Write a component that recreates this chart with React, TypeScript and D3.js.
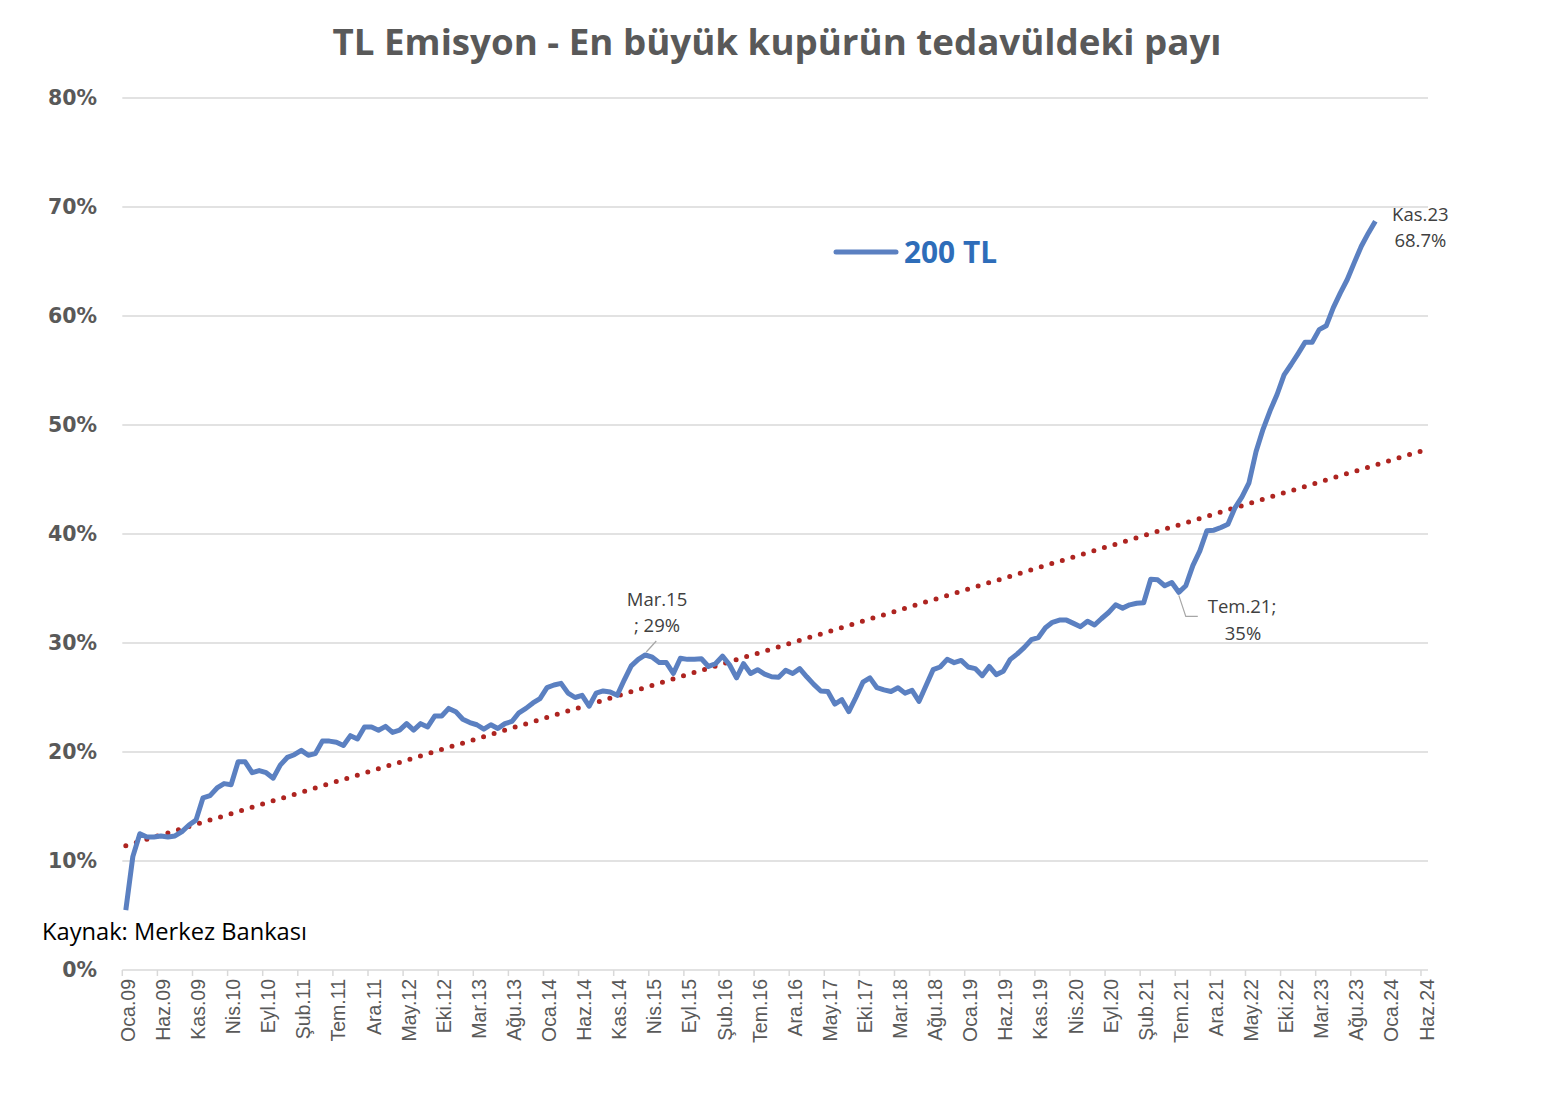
import React, { useEffect } from 'react'
import * as d3 from 'd3'

// Monthly share of the 200 TL note in circulation (%), Oca.09 .. Kas.23
const share200: number[] = [
  5.5, 10.4, 12.5, 12.2, 12.2, 12.3, 12.2, 12.3, 12.7, 13.3, 13.75, 15.8,
  16.0, 16.7, 17.1, 17.0, 19.1, 19.1, 18.1, 18.3, 18.1, 17.6, 18.8, 19.5,
  19.75, 20.15, 19.7, 19.85, 21.0, 21.0, 20.9, 20.6, 21.5, 21.2, 22.3, 22.3,
  22.0, 22.35, 21.8, 22.0, 22.6, 22.0, 22.6, 22.3, 23.3, 23.3, 24.0, 23.7,
  23.0, 22.7, 22.5, 22.1, 22.5, 22.15, 22.6, 22.8, 23.6, 24.0, 24.5, 24.9,
  25.9, 26.15, 26.3, 25.4, 25.0, 25.2, 24.2, 25.4, 25.6, 25.5, 25.2, 26.6,
  27.9, 28.5, 28.9, 28.7, 28.2, 28.2, 27.2, 28.6, 28.5, 28.5, 28.55, 27.85,
  28.1, 28.8, 28.0, 26.8, 28.1, 27.2, 27.55, 27.15, 26.9, 26.85, 27.5, 27.2,
  27.65, 26.9, 26.2, 25.6, 25.55, 24.4, 24.8, 23.7, 25.0, 26.4, 26.8, 25.9,
  25.7, 25.55, 25.9, 25.4, 25.65, 24.65, 26.1, 27.55, 27.8, 28.5, 28.2, 28.4,
  27.8, 27.65, 27.0, 27.85, 27.1, 27.4, 28.5, 29.0, 29.6, 30.3, 30.5, 31.4,
  31.9, 32.1, 32.1, 31.8, 31.5, 32.0, 31.65, 32.25, 32.8, 33.5, 33.2, 33.5,
  33.65, 33.7, 35.85, 35.8, 35.25, 35.55, 34.65, 35.25, 37.1, 38.45, 40.3, 40.35,
  40.6, 40.9, 42.4, 43.4, 44.7, 47.55, 49.6, 51.3, 52.8, 54.6, 55.55, 56.55,
  57.6, 57.6, 58.75, 59.1, 60.75, 62.1, 63.35, 64.9, 66.4, 67.6, 68.7,
]

// Category axis labels, one every 5 months (Oca.09 .. Haz.24)
const tickLabels: string[] = [
  'Oca.09', 'Haz.09', 'Kas.09', 'Nis.10', 'Eyl.10', 'Şub.11', 'Tem.11', 'Ara.11',
  'May.12', 'Eki.12', 'Mar.13', 'Ağu.13', 'Oca.14', 'Haz.14', 'Kas.14', 'Nis.15',
  'Eyl.15', 'Şub.16', 'Tem.16', 'Ara.16', 'May.17', 'Eki.17', 'Mar.18', 'Ağu.18',
  'Oca.19', 'Haz.19', 'Kas.19', 'Nis.20', 'Eyl.20', 'Şub.21', 'Tem.21', 'Ara.21',
  'May.22', 'Eki.22', 'Mar.23', 'Ağu.23', 'Oca.24', 'Haz.24',
]
const tickStep = 5
const categoryCount = 186

const yTicks: number[] = [0, 10, 20, 30, 40, 50, 60, 70, 80]

// Linear trend (start and end value, extended to Haz.24)
const trendIndex: number[] = [0, 185]
const trendValue: number[] = [11.4, 47.7]

// Point labels
const callouts = [
  { index: 74, lines: ['Mar.15', '; 29%'] },
  { index: 150, lines: ['Tem.21;', '35%'] },
  { index: 178, lines: ['Kas.23', '68.7%'] },
]

const W = 1564
const H = 1102
const plot = { left: 122.3, right: 1428, top: 98, bottom: 970 }
const blue = '#5B80C1'
const red = '#AE2420'
const grid = '#D9D9D9'
const gray = '#595959'

export default function App() {
  useEffect(() => {
    document.body.style.margin = '0'
  }, [])

  const x = d3.scaleLinear().domain([0, categoryCount]).range([plot.left, plot.right])
  const cx = (i: number) => x(i + 0.5)
  const y = d3.scaleLinear().domain([0, 80]).range([plot.bottom, plot.top])

  const line = d3
    .line<number>()
    .x((_, i) => cx(i))
    .y((d) => y(d))

  const trend = d3
    .line<number>()
    .x((d) => cx(d))
    .y((_, i) => y(trendValue[i]))

  const tickIdx = d3.range(0, categoryCount, tickStep)

  const [mar15, tem21, kas23] = callouts

  return (
    <svg width={W} height={H} style={{ display: 'block', background: '#fff' }}>
      <text
        x={777}
        y={55}
        textAnchor="middle"
        fontFamily="'Open Sans', sans-serif"
        fontWeight={700}
        fontSize={35}
        fill={gray}
        textLength={889}
        lengthAdjust="spacingAndGlyphs"
      >
        TL Emisyon - En büyük kupürün tedavüldeki payı
      </text>

      {/* gridlines */}
      {yTicks.slice(1).map((t) => (
        <line key={t} x1={plot.left} x2={plot.right} y1={y(t)} y2={y(t)} stroke={grid} strokeWidth={1.5} />
      ))}

      {/* y labels */}
      {yTicks.map((t) => (
        <text
          key={t}
          x={97}
          y={y(t)}
          dy="0.36em"
          textAnchor="end"
          fontFamily="'DejaVu Sans', sans-serif"
          fontWeight={700}
          fontSize={20.5}
          fill={gray}
        >
          {t}%
        </text>
      ))}

      {/* x axis */}
      <line x1={plot.left} x2={plot.right} y1={plot.bottom} y2={plot.bottom} stroke={grid} strokeWidth={1.5} />
      {tickIdx.map((i) => (
        <line key={i} x1={x(i)} x2={x(i)} y1={plot.bottom} y2={plot.bottom + 6} stroke={grid} strokeWidth={1.5} />
      ))}
      {tickIdx.map((i, k) => (
        <text
          key={i}
          transform={`translate(${cx(i) + 2},${plot.bottom + 9}) rotate(-90)`}
          dy="0.36em"
          textAnchor="end"
          fontFamily="'Liberation Sans', Arial, sans-serif"
          fontSize={19.5}
          fill={gray}
        >
          {tickLabels[k]}
        </text>
      ))}

      {/* trend */}
      <path
        d={trend(trendIndex) || ''}
        fill="none"
        stroke={red}
        strokeWidth={5}
        strokeLinecap="round"
        strokeDasharray="0 11"
      />

      {/* series */}
      <path d={line(share200) || ''} fill="none" stroke={blue} strokeWidth={5} strokeLinejoin="round" />

      {/* legend */}
      <line x1={836} x2={896} y1={252} y2={252} stroke={blue} strokeWidth={5} strokeLinecap="round" />
      <text
        x={904}
        y={263}
        fontFamily="'Open Sans', sans-serif"
        fontWeight={700}
        fontSize={30}
        fill="#2E6DB9"
        textLength={93}
        lengthAdjust="spacingAndGlyphs"
      >
        200 TL
      </text>

      {/* callouts */}
      <line
        x1={cx(mar15.index) + 1}
        y1={y(share200[mar15.index]) - 3}
        x2={cx(mar15.index) + 11}
        y2={y(share200[mar15.index]) - 14}
        stroke="#A6A6A6"
        strokeWidth={1.2}
      />
      <g fontFamily="'Open Sans', sans-serif" fontSize={18.5} fill="#404040" textAnchor="middle">
        <text x={657} y={606}>{mar15.lines[0]}</text>
        <text x={657} y={632}>{mar15.lines[1]}</text>
      </g>

      <polyline
        points={`${cx(tem21.index)},${y(share200[tem21.index]) + 3} ${cx(tem21.index) + 7},${y(share200[tem21.index]) + 24} ${cx(tem21.index) + 19},${y(share200[tem21.index]) + 24}`}
        fill="none"
        stroke="#A6A6A6"
        strokeWidth={1.2}
      />
      <g fontFamily="'Open Sans', sans-serif" fontSize={18.5} fill="#404040" textAnchor="middle">
        <text x={1242} y={613}>{tem21.lines[0]}</text>
        <text x={1243} y={640}>{tem21.lines[1]}</text>
      </g>

      <g fontFamily="'Open Sans', sans-serif" fontSize={18.5} fill="#404040" textAnchor="middle">
        <text x={cx(kas23.index) + 45} y={221}>{kas23.lines[0]}</text>
        <text x={cx(kas23.index) + 45} y={247}>{kas23.lines[1]}</text>
      </g>

      <text
        x={42}
        y={940}
        fontFamily="'Open Sans', sans-serif"
        fontSize={23}
        fill="#000"
        textLength={265}
        lengthAdjust="spacingAndGlyphs"
      >
        Kaynak: Merkez Bankası
      </text>
    </svg>
  )
}
